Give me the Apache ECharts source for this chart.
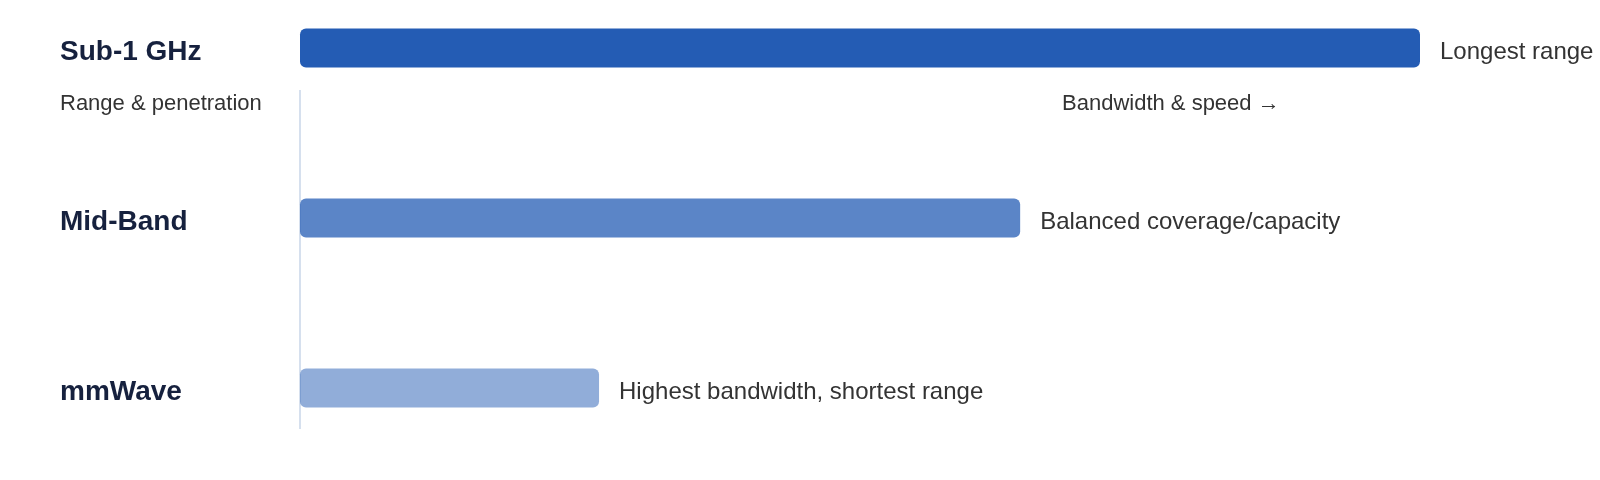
<!DOCTYPE html>
<html>
<head>
    <meta charset="utf-8">
    <script type="text/javascript" src="https://cdn.jsdelivr.net/npm/echarts@6/dist/echarts.min.js"></script>
    <style>
        html, body { margin: 0; padding: 0; background: #fff; }
    </style>
</head>
<body>
<div id="main" style="width:1600px;height:480px;"></div>

<script type="text/javascript">
    // 频段 / 相对覆盖范围 / 右侧说明
    var bands = ['Sub-1 GHz', 'Mid-Band', 'mmWave'];
    var reach = [100, 64.3, 26.7];
    var notes = ['Longest range', 'Balanced coverage/capacity', 'Highest bandwidth, shortest range'];
    var shades = [1, 0.75, 0.5];
    var leftCaption = 'Range & penetration';
    var rightCaption = 'Bandwidth & speed \u2192';

    var myChart = echarts.init(document.getElementById('main'));

    var barData = [];
    for (var i = 0; i < reach.length; i++) {
        barData.push({
            value: reach[i],
            itemStyle: { color: 'rgba(36,92,180,' + shades[i] + ')' }
        });
    }

    var option = {
        backgroundColor: '#fff',
        textStyle: { fontFamily: 'Liberation Sans, Arial, sans-serif' },
        grid: {
            left: 300,
            right: 180,
            top: 48,
            bottom: 92
        },
        xAxis: {
            type: 'value',
            min: 0,
            max: 100,
            show: false
        },
        yAxis: {
            type: 'category',
            inverse: true,
            boundaryGap: false,
            data: bands,
            axisLine: { show: false },
            axisTick: { show: false },
            splitLine: { show: false },
            axisLabel: {
                align: 'left',
                margin: 240,
                formatter: function (v) { return '{b|' + v + '}'; },
                rich: {
                    b: {
                        fontSize: 28,
                        fontWeight: 'bold',
                        color: '#16213e',
                        padding: [8, 0, 0, 0]
                    }
                }
            }
        },
        series: [
            {
                type: 'bar',
                barWidth: 39,
                data: barData,
                itemStyle: { borderRadius: 6 },
                label: {
                    show: true,
                    position: 'right',
                    distance: 20,
                    offset: [0, 4],
                    fontSize: 24,
                    color: '#333',
                    formatter: function (p) { return notes[p.dataIndex]; }
                },
                silent: true
            }
        ],
        graphic: [
            {
                type: 'line',
                shape: { x1: 300, y1: 90, x2: 300, y2: 429 },
                style: { stroke: '#d6e0ee', lineWidth: 2 },
                z: -1
            },
            {
                type: 'text',
                left: 60,
                top: 93,
                style: { text: leftCaption, fontSize: 22, fill: '#333', fontFamily: 'Liberation Sans, Arial, sans-serif' }
            },
            {
                type: 'text',
                left: 1062,
                top: 93,
                style: { text: rightCaption, fontSize: 22, fill: '#333', fontFamily: 'Liberation Sans, Arial, sans-serif' }
            }
        ]
    };
    myChart.setOption(option);
</script>
</body>
</html>
